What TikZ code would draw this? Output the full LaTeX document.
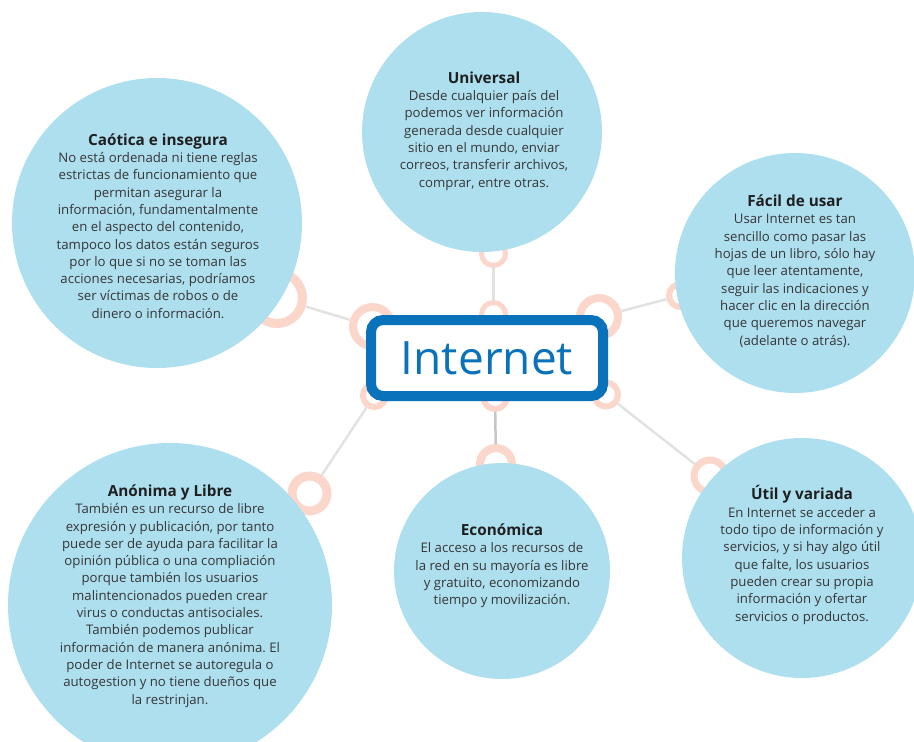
\documentclass[tikz,border=0pt]{standalone}
\usepackage{fontspec}
\usepackage{xcolor}
\setmainfont{Open Sans}
\usetikzlibrary{positioning}
\frenchspacing

\definecolor{bubbleblue}{HTML}{AEDFEF}
\definecolor{ringpink}{HTML}{FBD6CB}
\definecolor{boxblue}{HTML}{0A72BA}
\definecolor{linkgray}{HTML}{E2E2E2}
\definecolor{textgray}{HTML}{363636}

\tikzset{
  bubble/.style={circle, fill=bubbleblue, inner sep=0pt},
  ring/.style={circle, draw=ringpink, fill=white, inner sep=0pt},
  link/.style={draw=linkgray, line width=2.5pt},
  bubbletext/.style={align=center, text=textgray, font=\fontsize{13.2}{17.3}\selectfont},
}
\newcommand{\bubbletitle}[1]{{\fontsize{15.3}{17.3}\selectfont\bfseries\color{black!88}#1}}

\begin{document}
\begin{tikzpicture}[x=1pt, y=-1pt]
    % Fix the page size
    \useasboundingbox (0,0) rectangle (914,742);

    % Draw the rings
    \foreach \n/\x/\y/\d/\w in {u1/493.5/253.5/24/5, u2/493.5/314.5/24/5,
        c1/277/298/51/9, c2/372.5/326.5/39/8,
        f1/599/317/38/8, f2/680.5/295.5/23/6,
        e1/495/397.5/23/6, e2/496/464/32/8,
        a1/374.5/395.5/23/6, a2/309.5/493.5/35/9,
        v1/606/394.5/24/6, v2/710/476/32/7}
        \node[ring, minimum size=\d pt, line width=\w pt] (\n) at (\x,\y) {};

    % Draw the links between the rings
    \foreach \a/\b in {u1/u2, c1/c2, f1/f2, a1/a2, v1/v2}
        \draw[link] (\a) -- (\b);
    \draw[link, draw=gray!45] (e1) -- (e2);

    % Draw the bubbles
    \node[bubble, minimum size=240pt] (univ) at (482,132) {};
    \node[bubble, minimum size=290pt] (caot) at (157,223) {};
    \node[bubble, minimum size=240pt] (facil) at (795,273) {};
    \node[bubble, minimum size=324pt] (anon) at (170,605) {};
    \node[bubble, minimum size=216pt] (econ) at (502,571) {};
    \node[bubble, minimum size=240pt] (util) at (802,558) {};

    % Draw the central box
    \node[draw=boxblue, line width=10pt, rounded corners=12pt, fill=white,
        minimum width=232pt, minimum height=76pt, inner sep=0pt,
        text=boxblue, font=\fontsize{46}{50}\selectfont] (internet) at (487,358) {Internet};

    % Add the texts
    \node[bubbletext] (univtxt) at (484,131) {\bubbletitle{Universal}\\
        Desde cualquier país del\\ podemos ver información\\ generada desde cualquier\\
        sitio en el mundo, enviar\\ correos, transferir archivos,\\ comprar, entre otras.};
    \node[bubbletext] (caottxt) at (158,226) {\bubbletitle{Caótica e insegura}\\
        No está ordenada ni tiene reglas\\ estrictas de funcionamiento que\\
        permitan asegurar la\\ información, fundamentalmente\\ en el aspecto del contenido,\\
        tampoco los datos están seguros\\ por lo que si no se toman las\\
        acciones necesarias, podríamos\\ ser víctimas de robos o de\\ dinero o información.};
    \node[bubbletext] (faciltxt) at (795,271) {\bubbletitle{Fácil de usar}\\
        Usar Internet es tan\\ sencillo como pasar las\\ hojas de un libro, sólo hay\\
        que leer atentamente,\\ seguir las indicaciones y\\ hacer clic en la dirección\\
        que queremos navegar\\ (adelante o atrás).};
    \node[bubbletext] (anontxt) at (170,596) {\bubbletitle{Anónima y Libre}\\
        También es un recurso de libre\\ expresión y publicación, por tanto\\
        puede ser de ayuda para facilitar la\\ opinión pública o una compliación\\
        porque también los usuarios\\ malintencionados pueden crear\\
        virus o conductas antisociales.\\ También podemos publicar\\
        información de manera anónima. El\\ poder de Internet se autoregula o\\
        autogestion y no tiene dueños que\\ la restrinjan.};
    \node[bubbletext] (econtxt) at (502,566) {\bubbletitle{Económica}\\
        El acceso a los recursos de\\ la red en su mayoría es libre\\
        y gratuito, economizando\\ tiempo y movilización.};
    \node[bubbletext] (utiltxt) at (802,555) {\bubbletitle{Útil y variada}\\
        En Internet se acceder a\\ todo tipo de información y\\
        servicios, y si hay algo útil\\ que falte, los usuarios\\
        pueden crear su propia\\ información y ofertar\\ servicios o productos.};
\end{tikzpicture}
\end{document}
